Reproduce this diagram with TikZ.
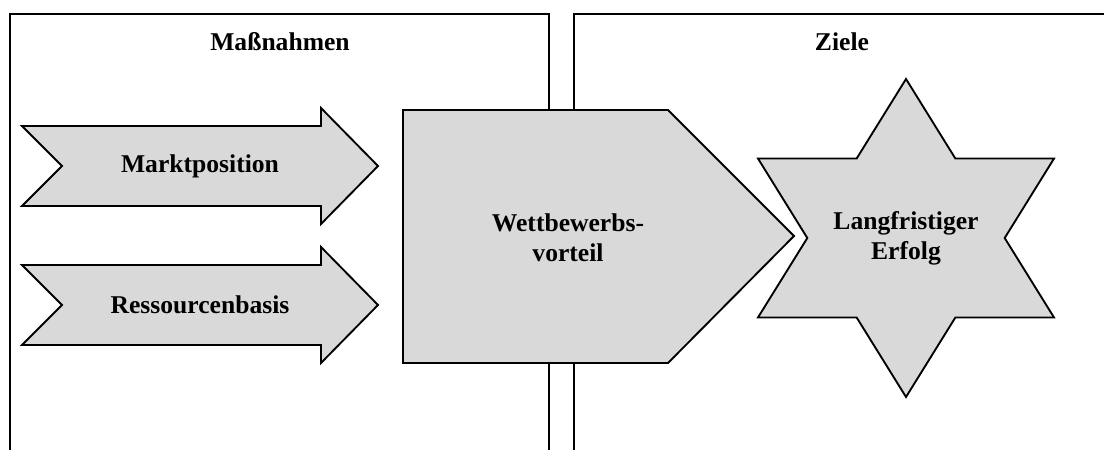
\documentclass[tikz,border=0pt]{standalone}
\usepackage{fontspec}
\setmainfont{Liberation Serif}
\definecolor{boxgray}{HTML}{D9D9D9}
\begin{document}
\begin{tikzpicture}[x=0.75pt,y=-0.75pt,
        frame/.style={line width=1.3pt},
        form/.style={draw, line width=1.4pt, fill=boxgray, line join=miter},
        txt/.style={font=\bfseries\fontsize{19.2}{22.5}\selectfont, align=center}]
    \useasboundingbox (0,0) rectangle (1104,450);
    % the two open panels
    \draw[frame] (10,450) -- (10,14) -- (549,14) -- (549,450);
    \draw[frame] (574,450) -- (574,14) -- (1104,14);
    \node[txt] (massnahmen) at (280,42) {Maßnahmen};
    \node[txt] (ziele) at (842,42) {Ziele};
    % notched arrows on the left
    \foreach \yc/\name/\txt in {166/markt/Marktposition, 305/ressourcen/Ressourcenbasis}{
        \draw[form] (22,\yc-40) -- (321,\yc-40) -- (321,\yc-58) -- (378,\yc)
            -- (321,\yc+58) -- (321,\yc+40) -- (22,\yc+40) -- (62,\yc) -- cycle;
        \node[txt] (\name) at (200,\yc) {\txt};
    }
    % pentagon in the middle
    \draw[form] (403,110) -- (668,110) -- (794,236) -- (668,363) -- (403,363) -- cycle;
    \node[txt] (vorteil) at (568,238) {Wettbewerbs-\\vorteil};
    % six-pointed star
    \begin{scope}[shift={(906,238)}, xscale=1.075]
        \draw[form] (90:159) -- (120:91.8) -- (150:159) -- (180:91.8) -- (210:159)
            -- (240:91.8) -- (270:159) -- (300:91.8) -- (330:159) -- (0:91.8)
            -- (30:159) -- (60:91.8) -- cycle;
    \end{scope}
    \node[txt] (erfolg) at (906,238) {Langfristiger\\Erfolg};
\end{tikzpicture}
\end{document}
